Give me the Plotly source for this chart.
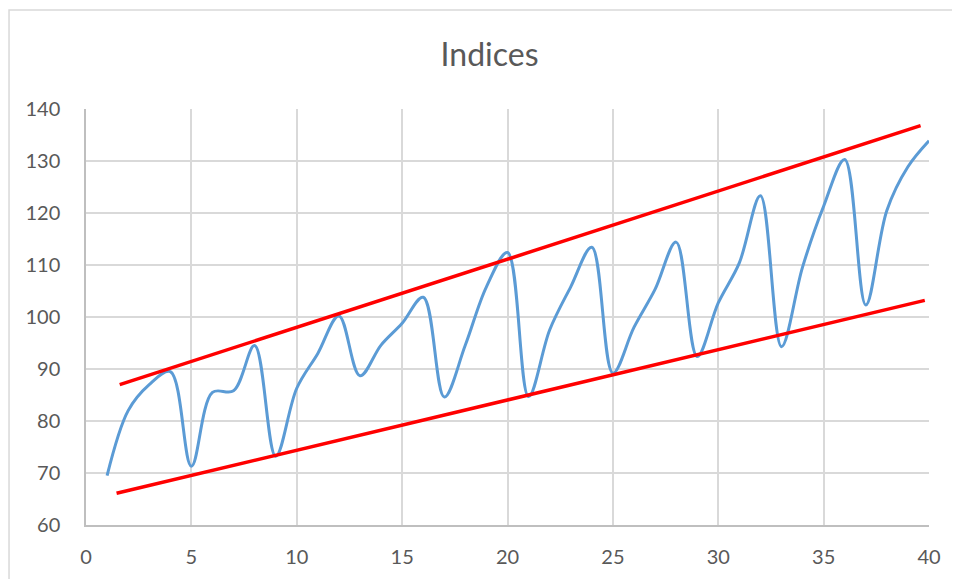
import plotly.graph_objects as go

# Data
x_vals = list(range(1, 41))
indices = [69.5, 82, 87, 89.5, 71.3, 85.5, 85.8, 94.5, 73.2, 86.3,
           93, 100.2, 88.7, 94.6, 98.8, 103.8, 84.6, 94.6, 105.8, 112.4,
           84.7, 97.5, 105.8, 113.4, 89.2, 98, 105.3, 114.4, 92.4, 102.7,
           110.4, 123.3, 94.3, 109.6, 121.3, 130.3, 102.3, 120.5, 128.9, 133.9]

upper_x = [1.6, 39.6]
upper_y = [87.0, 136.8]
lower_x = [1.45, 39.8]
lower_y = [66.1, 103.2]

x_ticks = [0, 5, 10, 15, 20, 25, 30, 35, 40]
y_ticks = [60, 70, 80, 90, 100, 110, 120, 130, 140]

FONT = "Lato"
TXT = "#595959"
GRID = "#D9D9D9"

fig = go.Figure()
fig.add_trace(go.Scatter(x=x_vals, y=indices, mode="lines",
                         line=dict(color="#5B9BD5", width=3, shape="spline", smoothing=1.0),
                         showlegend=False, hoverinfo="skip"))
fig.add_trace(go.Scatter(x=upper_x, y=upper_y, mode="lines",
                         line=dict(color="#FF0000", width=3.5),
                         showlegend=False, hoverinfo="skip"))
fig.add_trace(go.Scatter(x=lower_x, y=lower_y, mode="lines",
                         line=dict(color="#FF0000", width=3.5),
                         showlegend=False, hoverinfo="skip"))

fig.update_layout(
    width=960, height=579,
    margin=dict(l=78, r=39, t=101, b=62),
    paper_bgcolor="white", plot_bgcolor="white",
    title=dict(text="Indices", x=0.5016, xref="container", xanchor="center",
               y=0.919, yref="container", yanchor="middle",
               font=dict(family=FONT, size=32, color=TXT)),
    font=dict(family=FONT, color=TXT),
    shapes=[dict(type="rect", xref="paper", yref="paper",
                 x0=-0.0913, x1=1.2, y0=-0.3, y1=1.238,
                 line=dict(color=GRID, width=1.5), layer="below")],
)
fig.update_xaxes(range=[0, 40], tickvals=x_ticks, ticktext=[str(v) for v in x_ticks],
                 showgrid=True, gridcolor=GRID, gridwidth=1.5,
                 showline=True, linecolor="#BFBFBF", linewidth=2,
                 zeroline=False, ticks="", ticklabelstandoff=13,
                 tickfont=dict(family=FONT, size=20, color=TXT))
fig.update_yaxes(range=[60, 140], tickvals=y_ticks, ticktext=[str(v) for v in y_ticks],
                 showgrid=True, gridcolor=GRID, gridwidth=1.5,
                 showline=True, linecolor="#BFBFBF", linewidth=1.5,
                 zeroline=False, ticks="", ticklabelstandoff=20,
                 tickfont=dict(family=FONT, size=20, color=TXT))

fig.write_html("out.html")
